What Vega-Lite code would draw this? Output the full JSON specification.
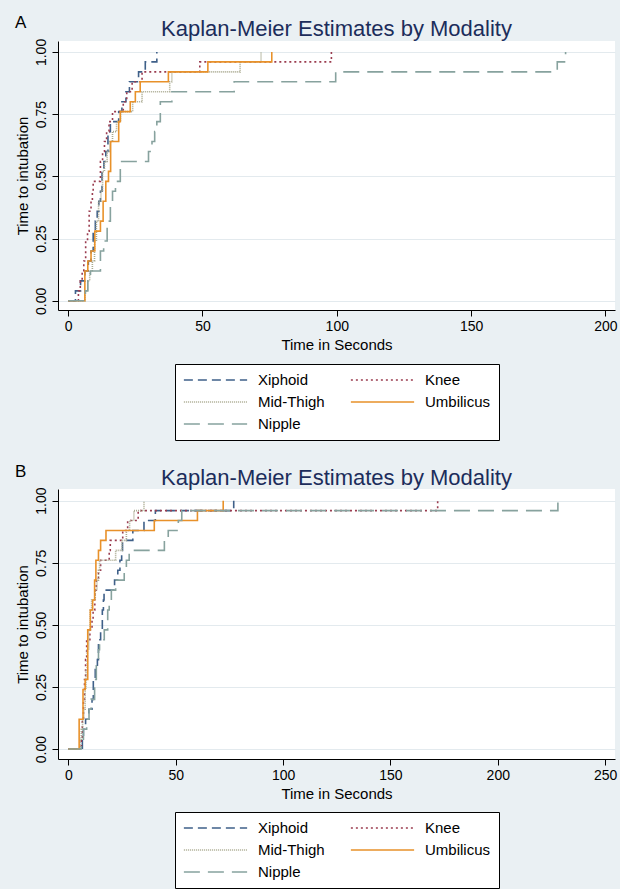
{
"$schema": "https://vega.github.io/schema/vega-lite/v6.json",
"background": "#eaf0f3",
"padding": {"left": 15, "top": 14, "right": 2, "bottom": 0},
"spacing": 22,
"config": {
  "font": "Liberation Sans",
  "view": {"stroke": null, "fill": "white"},
  "axis": {"domainColor": "black", "tickColor": "black", "labelColor": "black", "titleColor": "black", "labelFontSize": 14, "titleFontSize": 15, "titleFontWeight": "normal", "tickSize": 6, "domainWidth": 1, "tickWidth": 1, "labelFont": "Liberation Sans", "titleFont": "Liberation Sans"},
  "legend": {"labelFont": "Liberation Sans"},
  "title": {"font": "Liberation Sans"}
},
"datasets": {
"A": [
{"g":"Xiphoid","t":0,"s":0},{"g":"Xiphoid","t":2.7,"s":0.04},{"g":"Xiphoid","t":4.6,"s":0.08},{"g":"Xiphoid","t":6.2,"s":0.12},{"g":"Xiphoid","t":7.5,"s":0.16},{"g":"Xiphoid","t":8.5,"s":0.2},{"g":"Xiphoid","t":9.3,"s":0.28},{"g":"Xiphoid","t":10.1,"s":0.32},{"g":"Xiphoid","t":10.8,"s":0.36},{"g":"Xiphoid","t":11.4,"s":0.4},{"g":"Xiphoid","t":12,"s":0.44},{"g":"Xiphoid","t":12.6,"s":0.52},{"g":"Xiphoid","t":13.3,"s":0.56},{"g":"Xiphoid","t":14,"s":0.6},{"g":"Xiphoid","t":14.8,"s":0.68},{"g":"Xiphoid","t":15.7,"s":0.72},{"g":"Xiphoid","t":18.8,"s":0.76},{"g":"Xiphoid","t":20,"s":0.8},{"g":"Xiphoid","t":21.5,"s":0.84},{"g":"Xiphoid","t":22.8,"s":0.88},{"g":"Xiphoid","t":26.2,"s":0.92},{"g":"Xiphoid","t":28.7,"s":0.96},{"g":"Xiphoid","t":33,"s":1},
{"g":"Knee","t":0,"s":0},{"g":"Knee","t":3.8,"s":0.04},{"g":"Knee","t":4.5,"s":0.08},{"g":"Knee","t":5.2,"s":0.12},{"g":"Knee","t":5.8,"s":0.16},{"g":"Knee","t":6.5,"s":0.24},{"g":"Knee","t":7.2,"s":0.28},{"g":"Knee","t":7.8,"s":0.36},{"g":"Knee","t":8.5,"s":0.4},{"g":"Knee","t":9,"s":0.44},{"g":"Knee","t":9.3,"s":0.48},{"g":"Knee","t":12,"s":0.56},{"g":"Knee","t":12.8,"s":0.6},{"g":"Knee","t":13.5,"s":0.64},{"g":"Knee","t":14.3,"s":0.68},{"g":"Knee","t":15.2,"s":0.72},{"g":"Knee","t":16.5,"s":0.76},{"g":"Knee","t":20.5,"s":0.8},{"g":"Knee","t":21.8,"s":0.84},{"g":"Knee","t":23.8,"s":0.88},{"g":"Knee","t":27.5,"s":0.92},{"g":"Knee","t":49,"s":0.96},{"g":"Knee","t":98,"s":1},
{"g":"Mid-Thigh","t":0,"s":0},{"g":"Mid-Thigh","t":6.3,"s":0.04},{"g":"Mid-Thigh","t":7.3,"s":0.08},{"g":"Mid-Thigh","t":8,"s":0.12},{"g":"Mid-Thigh","t":9,"s":0.16},{"g":"Mid-Thigh","t":9.8,"s":0.24},{"g":"Mid-Thigh","t":10.5,"s":0.32},{"g":"Mid-Thigh","t":11.3,"s":0.4},{"g":"Mid-Thigh","t":12.2,"s":0.44},{"g":"Mid-Thigh","t":12.8,"s":0.52},{"g":"Mid-Thigh","t":13.5,"s":0.56},{"g":"Mid-Thigh","t":14.5,"s":0.6},{"g":"Mid-Thigh","t":15.5,"s":0.64},{"g":"Mid-Thigh","t":16.5,"s":0.68},{"g":"Mid-Thigh","t":18,"s":0.72},{"g":"Mid-Thigh","t":19.5,"s":0.76},{"g":"Mid-Thigh","t":24,"s":0.8},{"g":"Mid-Thigh","t":27.5,"s":0.84},{"g":"Mid-Thigh","t":37.8,"s":0.88},{"g":"Mid-Thigh","t":38.6,"s":0.92},{"g":"Mid-Thigh","t":64,"s":0.96},{"g":"Mid-Thigh","t":71.8,"s":1},
{"g":"Umbilicus","t":0,"s":0},{"g":"Umbilicus","t":6.2,"s":0.12},{"g":"Umbilicus","t":7.3,"s":0.16},{"g":"Umbilicus","t":8.5,"s":0.2},{"g":"Umbilicus","t":9.9,"s":0.28},{"g":"Umbilicus","t":12,"s":0.32},{"g":"Umbilicus","t":13,"s":0.4},{"g":"Umbilicus","t":14,"s":0.48},{"g":"Umbilicus","t":15,"s":0.52},{"g":"Umbilicus","t":15.8,"s":0.64},{"g":"Umbilicus","t":18.8,"s":0.72},{"g":"Umbilicus","t":19.4,"s":0.76},{"g":"Umbilicus","t":23.1,"s":0.8},{"g":"Umbilicus","t":25,"s":0.84},{"g":"Umbilicus","t":26.8,"s":0.88},{"g":"Umbilicus","t":37.3,"s":0.92},{"g":"Umbilicus","t":52,"s":0.96},{"g":"Umbilicus","t":75.8,"s":1},
{"g":"Nipple","t":0,"s":0},{"g":"Nipple","t":6.4,"s":0.04},{"g":"Nipple","t":7.3,"s":0.08},{"g":"Nipple","t":8.3,"s":0.12},{"g":"Nipple","t":12,"s":0.2},{"g":"Nipple","t":13.2,"s":0.24},{"g":"Nipple","t":14.5,"s":0.32},{"g":"Nipple","t":15.7,"s":0.4},{"g":"Nipple","t":16.5,"s":0.44},{"g":"Nipple","t":17.6,"s":0.48},{"g":"Nipple","t":19.4,"s":0.56},{"g":"Nipple","t":29.9,"s":0.6},{"g":"Nipple","t":31.2,"s":0.64},{"g":"Nipple","t":32.2,"s":0.68},{"g":"Nipple","t":33,"s":0.72},{"g":"Nipple","t":34.3,"s":0.8},{"g":"Nipple","t":38.6,"s":0.84},{"g":"Nipple","t":61.8,"s":0.88},{"g":"Nipple","t":99.6,"s":0.92},{"g":"Nipple","t":182.1,"s":0.96},{"g":"Nipple","t":185.2,"s":1}
],
"B": [
{"g":"Xiphoid","t":0,"s":0},{"g":"Xiphoid","t":6.5,"s":0.04},{"g":"Xiphoid","t":7,"s":0.08},{"g":"Xiphoid","t":8,"s":0.12},{"g":"Xiphoid","t":9.5,"s":0.16},{"g":"Xiphoid","t":11,"s":0.2},{"g":"Xiphoid","t":11.6,"s":0.28},{"g":"Xiphoid","t":12.5,"s":0.32},{"g":"Xiphoid","t":13.5,"s":0.36},{"g":"Xiphoid","t":14,"s":0.44},{"g":"Xiphoid","t":15,"s":0.48},{"g":"Xiphoid","t":15.8,"s":0.56},{"g":"Xiphoid","t":16.3,"s":0.6},{"g":"Xiphoid","t":16.6,"s":0.64},{"g":"Xiphoid","t":21.5,"s":0.68},{"g":"Xiphoid","t":23,"s":0.72},{"g":"Xiphoid","t":24,"s":0.76},{"g":"Xiphoid","t":24.8,"s":0.8},{"g":"Xiphoid","t":25.2,"s":0.84},{"g":"Xiphoid","t":30,"s":0.88},{"g":"Xiphoid","t":35.2,"s":0.92},{"g":"Xiphoid","t":40.5,"s":0.96},{"g":"Xiphoid","t":77,"s":1},
{"g":"Knee","t":0,"s":0},{"g":"Knee","t":6,"s":0.04},{"g":"Knee","t":6.5,"s":0.12},{"g":"Knee","t":7,"s":0.2},{"g":"Knee","t":7.5,"s":0.28},{"g":"Knee","t":8,"s":0.36},{"g":"Knee","t":8.5,"s":0.44},{"g":"Knee","t":10,"s":0.48},{"g":"Knee","t":11,"s":0.52},{"g":"Knee","t":11.5,"s":0.56},{"g":"Knee","t":12.3,"s":0.64},{"g":"Knee","t":13,"s":0.68},{"g":"Knee","t":14,"s":0.72},{"g":"Knee","t":15,"s":0.76},{"g":"Knee","t":19,"s":0.8},{"g":"Knee","t":19.5,"s":0.84},{"g":"Knee","t":25.3,"s":0.88},{"g":"Knee","t":27.6,"s":0.92},{"g":"Knee","t":32.5,"s":0.96},{"g":"Knee","t":172,"s":1},
{"g":"Mid-Thigh","t":0,"s":0},{"g":"Mid-Thigh","t":5.5,"s":0.04},{"g":"Mid-Thigh","t":6,"s":0.08},{"g":"Mid-Thigh","t":6.6,"s":0.12},{"g":"Mid-Thigh","t":7.2,"s":0.16},{"g":"Mid-Thigh","t":7.8,"s":0.24},{"g":"Mid-Thigh","t":8.2,"s":0.32},{"g":"Mid-Thigh","t":8.8,"s":0.4},{"g":"Mid-Thigh","t":9.5,"s":0.48},{"g":"Mid-Thigh","t":10.2,"s":0.56},{"g":"Mid-Thigh","t":10.8,"s":0.6},{"g":"Mid-Thigh","t":12.5,"s":0.64},{"g":"Mid-Thigh","t":13.3,"s":0.68},{"g":"Mid-Thigh","t":14,"s":0.72},{"g":"Mid-Thigh","t":14.5,"s":0.76},{"g":"Mid-Thigh","t":22,"s":0.8},{"g":"Mid-Thigh","t":25,"s":0.84},{"g":"Mid-Thigh","t":27,"s":0.88},{"g":"Mid-Thigh","t":28.5,"s":0.92},{"g":"Mid-Thigh","t":30.5,"s":0.96},{"g":"Mid-Thigh","t":35.2,"s":1},
{"g":"Umbilicus","t":0,"s":0},{"g":"Umbilicus","t":5,"s":0.12},{"g":"Umbilicus","t":6.8,"s":0.24},{"g":"Umbilicus","t":7.8,"s":0.28},{"g":"Umbilicus","t":9,"s":0.48},{"g":"Umbilicus","t":10.2,"s":0.56},{"g":"Umbilicus","t":11.3,"s":0.6},{"g":"Umbilicus","t":12.2,"s":0.68},{"g":"Umbilicus","t":12.8,"s":0.76},{"g":"Umbilicus","t":14,"s":0.8},{"g":"Umbilicus","t":15,"s":0.84},{"g":"Umbilicus","t":17.5,"s":0.88},{"g":"Umbilicus","t":40,"s":0.92},{"g":"Umbilicus","t":60.1,"s":0.96},{"g":"Umbilicus","t":72.1,"s":1},
{"g":"Nipple","t":0,"s":0},{"g":"Nipple","t":6,"s":0.04},{"g":"Nipple","t":7,"s":0.08},{"g":"Nipple","t":8.5,"s":0.12},{"g":"Nipple","t":9.6,"s":0.16},{"g":"Nipple","t":10.5,"s":0.2},{"g":"Nipple","t":12.2,"s":0.28},{"g":"Nipple","t":13,"s":0.36},{"g":"Nipple","t":14,"s":0.4},{"g":"Nipple","t":14.5,"s":0.44},{"g":"Nipple","t":16.7,"s":0.48},{"g":"Nipple","t":18.3,"s":0.56},{"g":"Nipple","t":19,"s":0.6},{"g":"Nipple","t":20,"s":0.64},{"g":"Nipple","t":22,"s":0.68},{"g":"Nipple","t":26,"s":0.72},{"g":"Nipple","t":27,"s":0.76},{"g":"Nipple","t":28.3,"s":0.8},{"g":"Nipple","t":44.7,"s":0.84},{"g":"Nipple","t":46.5,"s":0.88},{"g":"Nipple","t":51.2,"s":0.92},{"g":"Nipple","t":52.8,"s":0.96},{"g":"Nipple","t":228,"s":1}
]
},
"resolve": {"scale": {"x": "independent", "y": "independent", "color": "independent", "strokeDash": "independent", "strokeWidth": "independent"}, "legend": {"color": "independent", "strokeDash": "independent"}},
"vconcat": [
{
  "title": {"text": "A", "anchor": "start", "frame": "bounds", "fontSize": 17, "color": "black", "fontWeight": "normal", "offset": -14, "dx": 0},
  "vconcat": [{
    "title": {"text": "Kaplan-Meier Estimates by Modality", "anchor": "middle", "frame": "group", "fontSize": 22, "color": "#1c2d5b", "fontWeight": "normal", "offset": -3},
    "width": 557, "height": 269,
    "data": {"name": "A"},
    "mark": {"type": "line", "interpolate": "step-after"},
    "encoding": {
      "x": {"field": "t", "type": "quantitative", "scale": {"domain": [-3.8, 203.6], "nice": false, "zero": false}, "axis": {"values": [0, 50, 100, 150, 200], "title": "Time in Seconds", "grid": false, "labelPadding": 3, "titlePadding": 4, "labelFlush": false}},
      "y": {"field": "s", "type": "quantitative", "scale": {"domain": [-0.037, 1.044], "nice": false, "zero": false}, "axis": {"values": [0, 0.25, 0.5, 0.75, 1], "format": ".2f", "title": "Time to intubation", "grid": true, "gridColor": "#e3eaee", "labelAngle": 270, "labelAlign": "center", "labelBaseline": "alphabetic", "labelPadding": 7, "labelOverlap": false, "labelFlush": false, "titlePadding": 4}},
      "strokeWidth": {"field": "g", "type": "nominal", "scale": {"domain": ["Xiphoid", "Knee", "Mid-Thigh", "Umbilicus", "Nipple"], "range": [1.6, 1.6, 2.6, 1.6, 1.6]}, "legend": null},
      "color": {"field": "g", "type": "nominal", "scale": {"domain": ["Xiphoid", "Knee", "Mid-Thigh", "Umbilicus", "Nipple"], "range": ["#3f6089", "#9a3c4f", "#a9a98f", "#e8912a", "#87a29e"]},
        "legend": {"title": null, "orient": "none", "direction": "horizontal", "legendX": 117, "legendY": 323, "columns": 2, "fillColor": "white", "strokeColor": "black", "padding": 8, "symbolType": "stroke", "symbolSize": 4000, "symbolStrokeWidth": 1.6, "labelFontSize": 15, "labelOffset": 10, "clipHeight": 16, "rowPadding": 6, "columnPadding": 25, "labelColor": "black"}},
      "strokeDash": {"field": "g", "type": "nominal", "scale": {"domain": ["Xiphoid", "Knee", "Mid-Thigh", "Umbilicus", "Nipple"], "range": [[9, 5], [2, 3], [1, 1], [1, 0], [16, 8]]},
        "legend": {"title": null, "orient": "none", "direction": "horizontal", "legendX": 117, "legendY": 323, "columns": 2, "fillColor": "white", "strokeColor": "black", "padding": 8, "symbolType": "stroke", "symbolSize": 4000, "symbolStrokeWidth": 1.6, "labelFontSize": 15, "labelOffset": 10, "clipHeight": 16, "rowPadding": 6, "columnPadding": 25, "labelColor": "black"}}
    }
  }]
},
{
  "title": {"text": "B", "anchor": "start", "frame": "bounds", "fontSize": 17, "color": "black", "fontWeight": "normal", "offset": -14, "dx": 0},
  "vconcat": [{
    "title": {"text": "Kaplan-Meier Estimates by Modality", "anchor": "middle", "frame": "group", "fontSize": 22, "color": "#1c2d5b", "fontWeight": "normal", "offset": -3},
    "width": 557, "height": 270,
    "data": {"name": "B"},
    "mark": {"type": "line", "interpolate": "step-after"},
    "encoding": {
      "x": {"field": "t", "type": "quantitative", "scale": {"domain": [-4.85, 254.6], "nice": false, "zero": false}, "axis": {"values": [0, 50, 100, 150, 200, 250], "title": "Time in Seconds", "grid": false, "labelPadding": 3, "titlePadding": 4, "labelFlush": false}},
      "y": {"field": "s", "type": "quantitative", "scale": {"domain": [-0.04, 1.047], "nice": false, "zero": false}, "axis": {"values": [0, 0.25, 0.5, 0.75, 1], "format": ".2f", "title": "Time to intubation", "grid": true, "gridColor": "#e3eaee", "labelAngle": 270, "labelAlign": "center", "labelBaseline": "alphabetic", "labelPadding": 7, "labelOverlap": false, "labelFlush": false, "titlePadding": 4}},
      "strokeWidth": {"field": "g", "type": "nominal", "scale": {"domain": ["Xiphoid", "Knee", "Mid-Thigh", "Umbilicus", "Nipple"], "range": [1.6, 1.6, 2.6, 1.6, 1.6]}, "legend": null},
      "color": {"field": "g", "type": "nominal", "scale": {"domain": ["Xiphoid", "Knee", "Mid-Thigh", "Umbilicus", "Nipple"], "range": ["#3f6089", "#9a3c4f", "#a9a98f", "#e8912a", "#87a29e"]},
        "legend": {"title": null, "orient": "none", "direction": "horizontal", "legendX": 117, "legendY": 323, "columns": 2, "fillColor": "white", "strokeColor": "black", "padding": 8, "symbolType": "stroke", "symbolSize": 4000, "symbolStrokeWidth": 1.6, "labelFontSize": 15, "labelOffset": 10, "clipHeight": 16, "rowPadding": 6, "columnPadding": 25, "labelColor": "black"}},
      "strokeDash": {"field": "g", "type": "nominal", "scale": {"domain": ["Xiphoid", "Knee", "Mid-Thigh", "Umbilicus", "Nipple"], "range": [[9, 5], [2, 3], [1, 1], [1, 0], [16, 8]]},
        "legend": {"title": null, "orient": "none", "direction": "horizontal", "legendX": 117, "legendY": 323, "columns": 2, "fillColor": "white", "strokeColor": "black", "padding": 8, "symbolType": "stroke", "symbolSize": 4000, "symbolStrokeWidth": 1.6, "labelFontSize": 15, "labelOffset": 10, "clipHeight": 16, "rowPadding": 6, "columnPadding": 25, "labelColor": "black"}}
    }
  }]
}
]
}
